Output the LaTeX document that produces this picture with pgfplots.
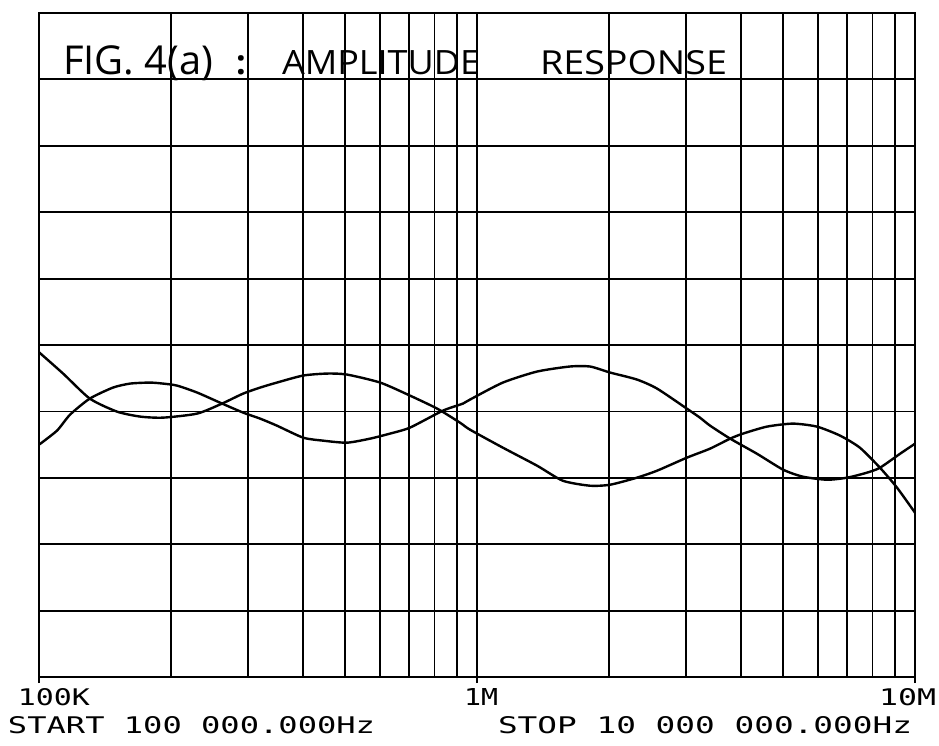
\documentclass[border=0pt]{standalone}
\usepackage{fontspec}
\usepackage{graphicx}
\usepackage{pgfplots}
\pgfplotsset{compat=1.18}
\newfontfamily\plotfont{DejaVu Sans Mono}
\newfontfamily\handfont{Open Sans}

\begin{document}
\begin{tikzpicture}
\begin{axis}[
  scale only axis,
  width=438pt, height=332pt,
  xmin=5, xmax=7, ymin=0, ymax=10,
  axis line style={black, line width=1pt},
  xtick={5,6,7}, xticklabels={},
  minor xtick={5.30103,5.47712,5.60206,5.69897,5.77815,5.84510,5.90309,5.95424,
               6.30103,6.47712,6.60206,6.69897,6.77815,6.84510,6.90309,6.95424},
  ytick={0,1,2,3,4,5,6,7,8,9,10}, yticklabels={},
  xtick pos=bottom, tick align=outside,
  major tick length=3pt, minor tick length=0pt,
  major tick style={black, line width=1pt},
  ytick style={draw=none},
  grid=both,
  major grid style={black, line width=0.9pt},
  minor grid style={black, line width=0.9pt},
  clip=false,
]
% curve A (starts high at 100K)
\addplot[black, line width=1.2pt, smooth, tension=0.4] coordinates {
(5.000,4.891) (5.055,4.570) (5.116,4.193) (5.178,3.997) (5.231,3.922)
(5.283,3.906) (5.361,3.967) (5.418,4.118) (5.466,4.268) (5.505,4.359)
(5.543,4.434) (5.603,4.540) (5.658,4.570) (5.703,4.555) (5.779,4.434)
(5.847,4.238) (5.909,4.042) (5.961,3.831) (5.984,3.725) (6.059,3.454)
(6.137,3.183) (6.196,2.956) (6.258,2.881) (6.304,2.896) (6.365,3.002)
(6.411,3.107) (6.479,3.303) (6.532,3.439) (6.578,3.590) (6.607,3.665)
(6.662,3.771) (6.721,3.816) (6.776,3.771) (6.829,3.635) (6.874,3.454)
(6.920,3.152) (6.959,2.851) (7.000,2.474)
};
% curve B (starts low at 100K)
\addplot[black, line width=1.2pt, smooth, tension=0.4] coordinates {
(5.000,3.499) (5.041,3.710) (5.071,3.952) (5.116,4.193) (5.169,4.359)
(5.208,4.419) (5.253,4.434) (5.283,4.419) (5.315,4.389) (5.361,4.284)
(5.418,4.118) (5.466,3.982) (5.505,3.891) (5.543,3.786) (5.603,3.605)
(5.648,3.560) (5.703,3.529) (5.756,3.590) (5.801,3.665) (5.847,3.756)
(5.922,4.011) (5.968,4.118) (5.984,4.178) (6.059,4.434) (6.137,4.600)
(6.212,4.676) (6.258,4.676) (6.304,4.585) (6.365,4.480) (6.411,4.344)
(6.479,4.042) (6.509,3.906) (6.532,3.786) (6.578,3.590) (6.639,3.363)
(6.699,3.122) (6.744,3.017) (6.799,2.971) (6.845,3.002) (6.890,3.077)
(6.920,3.152) (6.966,3.363) (7.000,3.514)
};
\end{axis}
% tick labels and frequency span
\begin{scope}[every node/.style={anchor=base west, inner sep=0pt, outer sep=0pt}]
\node at ([shift={(-10.5pt,-14pt)}]current axis.south west) {\resizebox{36pt}{8.5pt}{\plotfont 100K}};
\node at ([shift={(212.5pt,-14pt)}]current axis.south west) {\resizebox{17pt}{8.5pt}{\plotfont 1M}};
\node at ([shift={(420pt,-14pt)}]current axis.south west) {\resizebox{28.5pt}{8.5pt}{\plotfont 10M}};
\node at ([shift={(-15.5pt,-28pt)}]current axis.south west) {\resizebox{183.5pt}{8.5pt}{\plotfont START 100 000.000Hz}};
\node at ([shift={(229.5pt,-28pt)}]current axis.south west) {\resizebox{207pt}{8.5pt}{\plotfont STOP 10 000 000.000Hz}};
% handwritten title
\node at ([shift={(12pt,301pt)}]current axis.south west) {\resizebox{75pt}{!}{\handfont\fontsize{17}{20}\selectfont FIG. 4(a)}};
\node at ([shift={(98.5pt,301pt)}]current axis.south west) {\handfont\bfseries\fontsize{17}{20}\selectfont :};
\node at ([shift={(121.5pt,301pt)}]current axis.south west) {\resizebox{99pt}{12pt}{\handfont AMPLITUDE}};
\node at ([shift={(250.5pt,301pt)}]current axis.south west) {\resizebox{93.5pt}{12pt}{\handfont RESPONSE}};
\end{scope}
\pgfresetboundingbox
\path ([shift={(-19.5pt,-34pt)}]current axis.south west) rectangle ([shift={(12pt,6.5pt)}]current axis.north east);
\end{tikzpicture}
\end{document}
